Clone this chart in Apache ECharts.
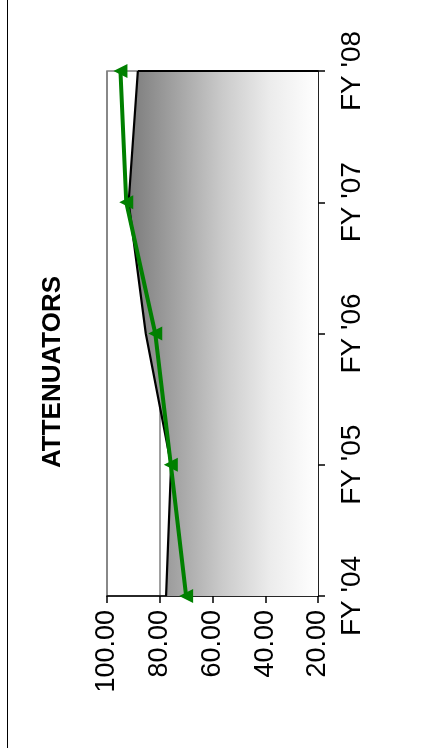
<!DOCTYPE html>
<html>
<head>
<meta charset="utf-8">
<script src="https://cdn.jsdelivr.net/npm/echarts@6/dist/echarts.min.js"></script>
<style>
html,body{margin:0;padding:0;background:#fff;}
#chart{width:435px;height:748px;}
</style>
</head>
<body>
<div id="chart"></div>
<script>
const categories = ["FY '04", "FY '05", "FY '06", "FY '07", "FY '08"];
const areaValues = [77.6, 75.7, 85.3, 91.8, 88.3];
const lineValues = [70.0, 75.8, 81.7, 92.7, 94.9];
const valueTicks = [20, 40, 60, 80, 100];
const titleText = 'ATTENUATORS';

const FONT = "'Liberation Sans', Arial, sans-serif";
const chart = echarts.init(document.getElementById('chart'), null, {renderer: 'canvas'});

chart.setOption({
  animation: false,
  backgroundColor: '#ffffff',
  grid: {
    left: 107, right: 117, top: 71, bottom: 152,
    show: true, borderColor: '#808080', borderWidth: 1.5, backgroundColor: 'transparent'
  },
  graphic: [
    { type: 'line', shape: {x1: 7.5, y1: 0, x2: 7.5, y2: 748}, style: {stroke: '#000', lineWidth: 1} },
    { type: 'text', x: 53, y: 372, rotation: Math.PI / 2,
      style: { text: titleText, font: 'bold 26px ' + FONT, fill: '#000', align: 'center', verticalAlign: 'middle' } }
  ],
  xAxis: {
    type: 'value',
    min: valueTicks[0], max: valueTicks[valueTicks.length - 1], interval: 20,
    inverse: true, position: 'bottom',
    axisLine: { show: true, lineStyle: { color: '#000', width: 1.5 } },
    axisTick: { show: true, length: 7, lineStyle: { color: '#000', width: 1.5 } },
    splitLine: { show: true, lineStyle: { color: '#808080', width: 1.5 } },
    axisLabel: { rotate: 90, margin: 14, fontSize: 27, fontFamily: FONT, color: '#000',
      formatter: v => v.toFixed(2) }
  },
  yAxis: {
    type: 'category', data: categories, position: 'right', boundaryGap: false,
    axisLine: { show: true, lineStyle: { color: '#000', width: 1.5 } },
    axisTick: { show: true, length: 7, lineStyle: { color: '#000', width: 1.5 } },
    splitLine: { show: false },
    axisLabel: { rotate: 90, margin: 20, fontSize: 28, fontFamily: FONT, color: '#000' }
  },
  series: [
    {
      type: 'line', data: areaValues, symbol: 'none', z: 2,
      lineStyle: { color: '#000', width: 2.2 },
      areaStyle: {
        origin: 'start', opacity: 1,
        color: new echarts.graphic.LinearGradient(0, 0, 1, 0, [
          {offset: 0, color: '#7b7b7b'},
          {offset: 0.5, color: '#cbcbcb'},
          {offset: 0.75, color: '#ececec'},
          {offset: 1, color: '#ffffff'}
        ])
      },
      markLine: {
        silent: true, symbol: ['none', 'none'], label: {show: false},
        lineStyle: { color: '#000', width: 2.2, type: 'solid' },
        data: [[ {coord: [areaValues[4], categories[4]]}, {coord: [valueTicks[0], categories[4]]} ]]
      }
    },
    {
      type: 'line', data: lineValues, z: 5,
      symbol: 'triangle', symbolSize: 14, symbolRotate: 90,
      lineStyle: { color: '#008000', width: 4 },
      itemStyle: { color: '#008000' }
    }
  ]
});
</script>
</body>
</html>
